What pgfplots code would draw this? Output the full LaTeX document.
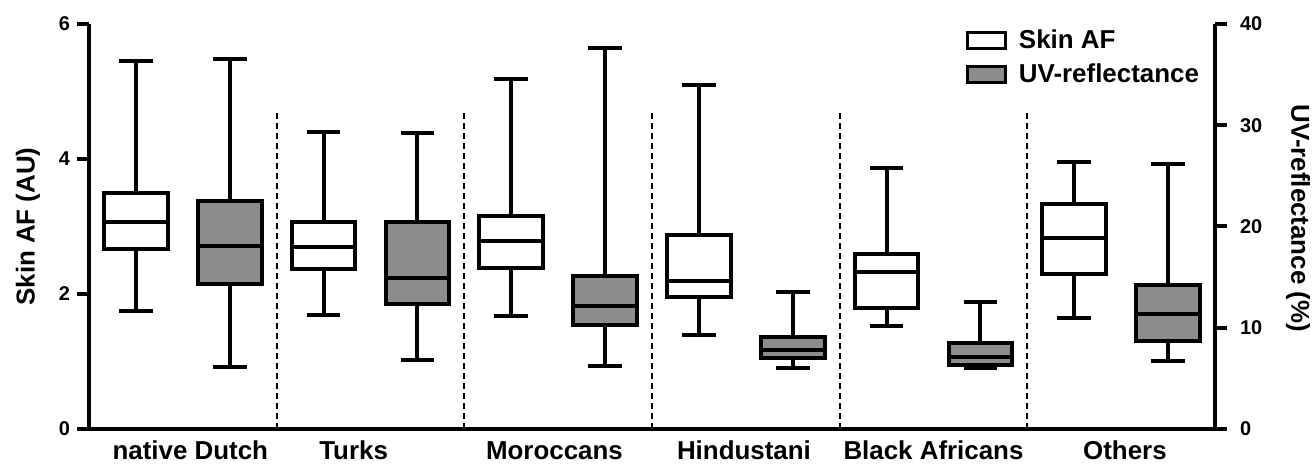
\documentclass[border=0pt]{standalone}
\usepackage{fontspec}
\setmainfont{Liberation Sans}
\usepackage{pgfplots}
\pgfplotsset{compat=1.18}
\usepgfplotslibrary{statistics}
\definecolor{uvgray}{RGB}{140,140,140}
\newcommand\bigf{\bfseries\fontsize{13}{15.6}\selectfont}
\newcommand\tickf{\bfseries\fontsize{10}{12}\selectfont}
% position, lower whisker, lower quartile, median, upper quartile, upper whisker
\newcommand\mybox[7]{\addplot[forget plot, draw=black, fill=#7, line width=2bp,
  boxplot prepared={draw direction=y, draw position=#1, lower whisker=#2, lower quartile=#3,
  median=#4, upper quartile=#5, upper whisker=#6, box extend=0.34, whisker extend=0.18}]
  coordinates {};}
\begin{document}
\begin{tikzpicture}
\begin{axis}[name=a,
  scale only axis, width=563bp, height=202.5bp,
  xmin=0, xmax=6, ymin=0, ymax=6,
  axis x line*=bottom, axis y line*=left,
  axis line style={line width=2bp},
  ytick={0,2,4,6},
  xtick={0.54,1.41,2.48,3.49,4.5,5.52},
  xticklabels={native Dutch, Turks, Moroccans, Hindustani, Black Africans, Others},
  xticklabel style={font=\bigf, anchor=base, yshift=-9bp},
  yticklabel style={font=\tickf},
  x tick style={draw=none},
  y tick style={line width=2bp, black},
  tick align=outside, major tick length=6bp,
  ylabel={Skin AF (AU)},
  ylabel style={font=\bigf, at={(axis description cs:-0.0542,0.5)}, anchor=center},
  /pgf/number format/assume math mode=true,
  clip=false]
% Skin AF (AU)
\mybox{0.25}{1.75}{2.66}{3.06}{3.50}{5.45}{white}
\mybox{1.25}{1.69}{2.37}{2.69}{3.06}{4.40}{white}
\mybox{2.25}{1.68}{2.39}{2.79}{3.16}{5.19}{white}
\mybox{3.25}{1.39}{1.95}{2.19}{2.88}{5.10}{white}
\mybox{4.25}{1.52}{1.80}{2.33}{2.60}{3.86}{white}
\mybox{5.25}{1.65}{2.29}{2.83}{3.34}{3.95}{white}
% group dividers
\addplot[forget plot, black, line width=1bp, dash pattern=on 3bp off 2bp] coordinates {(1,0) (1,4.7)};
\addplot[forget plot, black, line width=1bp, dash pattern=on 3bp off 2bp] coordinates {(2,0) (2,4.7)};
\addplot[forget plot, black, line width=1bp, dash pattern=on 3bp off 2bp] coordinates {(3,0) (3,4.7)};
\addplot[forget plot, black, line width=1bp, dash pattern=on 3bp off 2bp] coordinates {(4,0) (4,4.7)};
\addplot[forget plot, black, line width=1bp, dash pattern=on 3bp off 2bp] coordinates {(5,0) (5,4.7)};
\end{axis}
\begin{axis}[
  scale only axis, width=563bp, height=202.5bp,
  xmin=0, xmax=6, ymin=0, ymax=40,
  axis x line=none, axis y line*=right,
  axis line style={line width=2bp},
  ytick={0,10,20,30,40},
  yticklabel style={font=\tickf, xshift=3bp},
  y tick style={line width=2bp, black},
  tick align=outside, major tick length=6bp,
  ylabel={UV-reflectance (\%)},
  ylabel style={font=\bigf, at={(axis description cs:1.0737,0.52)}, anchor=center, rotate=180},
  /pgf/number format/assume math mode=true,
  legend style={at={(axis description cs:0.7785,0.997)}, anchor=north west,
    draw=none, fill=none, font=\bigf, inner sep=0pt, row sep=2bp, column sep=4bp,
    cells={anchor=west}},
  clip=false]
% UV-reflectance (%)
\mybox{0.75}{6.1}{14.3}{18.1}{22.5}{36.5}{uvgray}
\mybox{1.75}{6.8}{12.3}{14.9}{20.4}{29.2}{uvgray}
\mybox{2.75}{6.2}{10.3}{12.1}{15.1}{37.6}{uvgray}
\mybox{3.75}{6.0}{7.0}{7.8}{9.1}{13.5}{uvgray}
\mybox{4.75}{6.0}{6.3}{7.1}{8.5}{12.5}{uvgray}
\mybox{5.75}{6.7}{8.7}{11.4}{14.2}{26.2}{uvgray}
\addlegendimage{legend image code/.code={\draw[draw=black,fill=white,line width=1.5bp] (0bp,-4bp) rectangle (19bp,4bp);}}
\addlegendentry{Skin AF}
\addlegendimage{legend image code/.code={\draw[draw=black,fill=uvgray,line width=1.5bp] (0bp,-4bp) rectangle (19bp,4bp);}}
\addlegendentry{UV-reflectance}
\end{axis}
\path (a.south west) ++(-44.5bp,-18.5bp) coordinate (bl);
\path (a.north east) ++(48.5bp,12bp) coordinate (tr);
\pgfresetboundingbox
\path[use as bounding box] (bl) rectangle (tr);
\end{tikzpicture}
\end{document}
